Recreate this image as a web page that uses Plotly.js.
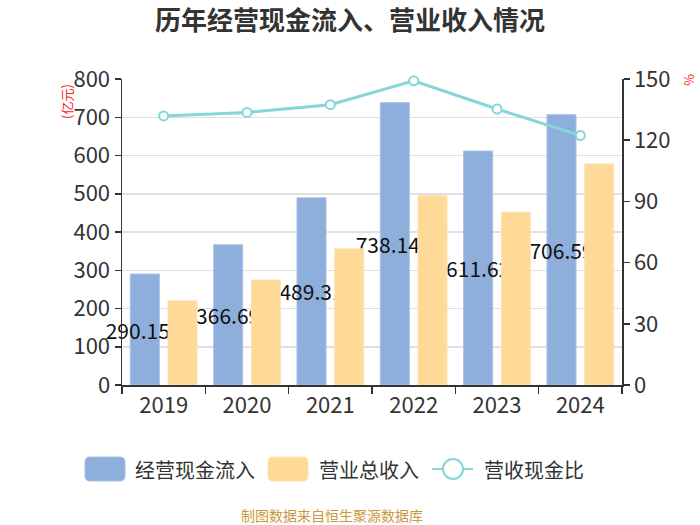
<!DOCTYPE html>
<html>
<head>
<meta charset="utf-8">
<script src="https://cdn.plot.ly/plotly-3.0.1.min.js"></script>
<style>html,body{margin:0;padding:0;background:#fff;}#chart{width:700px;height:525px;}</style>
</head>
<body>
<div id="chart"></div>
<script>
const years = ['2019', '2020', '2021', '2022', '2023', '2024'];
const cashInflow = [290.15, 366.69, 489.31, 738.14, 611.62, 706.59];
const revenue = [220.0, 274.5, 356.0, 495.0, 452.0, 578.0];
const ratio = [131.9, 133.6, 137.4, 149.1, 135.3, 122.3];
const cashLabels = ['290.15', '366.69', '489.31', '738.14', '611.62', '706.59'];

const FONT = '"Noto Sans CJK SC", "Noto Sans", sans-serif';
const BLUE = '#8eaedb';
const YELLOW = '#fed998';
const TEAL = '#84d6d9';

// label nudges (style only): number of trailing non-breaking spaces per label
const labelNudge = [3, 0, 0, 3, 0, 0];

const L = 122, R = 622, T = 79, B = 385;
const W = R - L, H = B - T;
const px = v => (v - L) / W;
const py = v => (B - v) / H;

const traces = [
  {
    type: 'bar', name: '经营现金流入', x: years, y: cashInflow,
    marker: {color: BLUE, line: {color: '#a9c2e6', width: 1}},
    text: cashLabels.map((s, i) => s + '&nbsp;'.repeat(labelNudge[i])),
    textposition: 'inside', insidetextanchor: 'middle',
    textangle: 0, constraintext: 'none', cliponaxis: false,
    textfont: {family: FONT, size: 21, color: '#111'},
    hoverinfo: 'skip'
  },
  {
    type: 'bar', name: '营业总收入', x: years, y: revenue,
    marker: {color: YELLOW, line: {color: '#fee4b4', width: 1}},
    hoverinfo: 'skip'
  },
  {
    type: 'scatter', mode: 'lines+markers', name: '营收现金比', x: years, y: ratio,
    yaxis: 'y2',
    line: {color: TEAL, width: 3},
    marker: {symbol: 'circle', size: 9, color: '#fff', line: {color: TEAL, width: 2}},
    hoverinfo: 'skip', cliponaxis: false
  }
];

function roundRect(x0, y0, x1, y1, r) {
  const X = v => px(v), Y = v => py(v);
  return 'M' + X(x0 + r) + ',' + Y(y0) +
    ' L' + X(x1 - r) + ',' + Y(y0) +
    ' Q' + X(x1) + ',' + Y(y0) + ' ' + X(x1) + ',' + Y(y0 + r) +
    ' L' + X(x1) + ',' + Y(y1 - r) +
    ' Q' + X(x1) + ',' + Y(y1) + ' ' + X(x1 - r) + ',' + Y(y1) +
    ' L' + X(x0 + r) + ',' + Y(y1) +
    ' Q' + X(x0) + ',' + Y(y1) + ' ' + X(x0) + ',' + Y(y1 - r) +
    ' L' + X(x0) + ',' + Y(y0 + r) +
    ' Q' + X(x0) + ',' + Y(y0) + ' ' + X(x0 + r) + ',' + Y(y0) + ' Z';
}

const legY = 469;
const shapes = [
  {type: 'path', xref: 'paper', yref: 'paper', path: roundRect(85, 457, 125, 481, 5),
   fillcolor: BLUE, line: {color: '#a9c2e6', width: 1}},
  {type: 'path', xref: 'paper', yref: 'paper', path: roundRect(268, 457, 308, 481, 5),
   fillcolor: YELLOW, line: {color: '#fee4b4', width: 1}},
  {type: 'line', xref: 'paper', yref: 'paper', x0: px(432), x1: px(473), y0: py(legY), y1: py(legY),
   line: {color: TEAL, width: 2}},
  {type: 'circle', xref: 'paper', yref: 'paper', x0: px(443), x1: px(463), y0: py(legY - 10), y1: py(legY + 10),
   fillcolor: '#fff', line: {color: TEAL, width: 2}}
];

const annotations = [
  {xref: 'paper', yref: 'paper', x: px(133), y: py(legY), xanchor: 'left', yanchor: 'middle',
   text: '经营现金流入', showarrow: false, font: {family: FONT, size: 20, color: '#333'}},
  {xref: 'paper', yref: 'paper', x: px(317), y: py(legY), xanchor: 'left', yanchor: 'middle',
   text: '营业总收入', showarrow: false, font: {family: FONT, size: 20, color: '#333'}},
  {xref: 'paper', yref: 'paper', x: px(482), y: py(legY), xanchor: 'left', yanchor: 'middle',
   text: '营收现金比', showarrow: false, font: {family: FONT, size: 20, color: '#333'}},
  {xref: 'paper', yref: 'paper', x: px(332), y: py(515), xanchor: 'center', yanchor: 'middle',
   text: '制图数据来自恒生聚源数据库', showarrow: false, font: {family: FONT, size: 14, color: '#c9993c'}},
  {xref: 'paper', yref: 'paper', x: px(67), y: py(102), xanchor: 'center', yanchor: 'middle',
   text: '(亿元)', textangle: -90, showarrow: false, font: {family: FONT, size: 13, color: '#ff2020'}},
  {xref: 'paper', yref: 'paper', x: px(688), y: py(80), xanchor: 'center', yanchor: 'middle',
   text: '%', textangle: -90, showarrow: false, font: {family: FONT, size: 13, color: '#ff2020'}}
];

const layout = {
  width: 700, height: 525,
  margin: {l: L, r: 700 - R, t: T, b: 525 - B, pad: 0},
  paper_bgcolor: '#fff', plot_bgcolor: '#fff',
  font: {family: FONT, color: '#333'},
  title: {text: '<b>历年经营现金流入、营业收入情况</b>', x: 0.5, xref: 'container', xanchor: 'center',
          y: 1 - 21 / 525, yref: 'container', yanchor: 'middle',
          font: {family: FONT, size: 26, color: '#333'}},
  showlegend: false,
  barmode: 'group', bargap: 0.095, bargroupgap: 0.23,
  xaxis: {
    type: 'category', showline: true, linecolor: '#333', linewidth: 1.5,
    ticks: 'outside', ticklen: 7, tickcolor: '#333', tickwidth: 1.5, tickson: 'boundaries',
    tickfont: {family: FONT, size: 22, color: '#333'}, showgrid: false, zeroline: false,
    fixedrange: true
  },
  yaxis: {
    range: [0, 800], dtick: 100, tick0: 0, showline: true, linecolor: '#333', linewidth: 1.5,
    ticks: 'outside', ticklen: 6, tickcolor: '#333', tickwidth: 1.5,
    tickfont: {family: FONT, size: 22, color: '#333'},
    showgrid: true, gridcolor: '#e0e0e0', gridwidth: 1.5, zeroline: false, fixedrange: true
  },
  yaxis2: {
    overlaying: 'y', side: 'right', range: [0, 150], dtick: 30, tick0: 0,
    showline: true, linecolor: '#333', linewidth: 1.5,
    ticks: 'outside', ticklen: 6, tickcolor: '#333', tickwidth: 1.5,
    tickfont: {family: FONT, size: 22, color: '#333'},
    showgrid: false, zeroline: false, fixedrange: true
  },
  shapes: shapes,
  annotations: annotations
};

Plotly.newPlot('chart', traces, layout, {staticPlot: true, displayModeBar: false});
</script>
</body>
</html>
